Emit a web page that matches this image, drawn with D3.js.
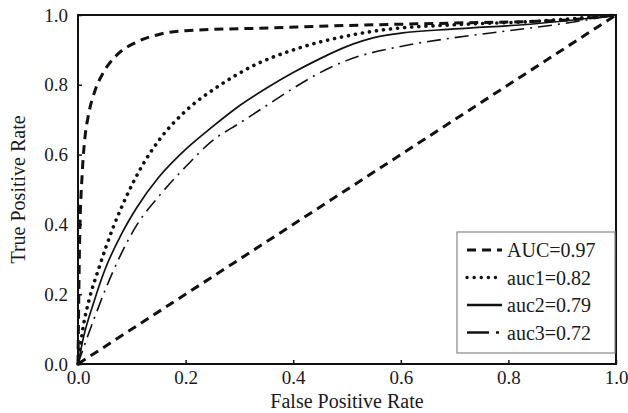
<!DOCTYPE html>
<meta charset="utf-8">
<style>
    body { margin: 0; background: #fff; }
    text { font-family: "Liberation Serif", "Times New Roman", serif; fill: #1a1a1a; }
    .frame { fill: none; stroke: #111; stroke-width: 2; }
    .roc { fill: none; stroke: #111; }
</style>
<svg width="628" height="413"></svg>
<script src="https://d3js.org/d3.v7.min.js"></script>
<script>

// ROC data
var fprAUC = [0, 0.003, 0.008, 0.013, 0.019, 0.032, 0.047, 0.072, 0.11, 0.152, 0.2, 0.36, 0.5, 0.7, 0.9, 1];
var tprAUC = [0, 0.35, 0.55, 0.65, 0.71, 0.785, 0.835, 0.885, 0.923, 0.945, 0.955, 0.963, 0.97, 0.977, 0.985, 1];

var fpr1 = [0, 0.01, 0.02, 0.04, 0.065, 0.09, 0.12, 0.15, 0.2, 0.26, 0.32, 0.41, 0.5, 0.57, 0.7, 0.85, 1];
var tpr1 = [0, 0.11, 0.18, 0.28, 0.39, 0.48, 0.57, 0.64, 0.725, 0.795, 0.85, 0.905, 0.94, 0.958, 0.972, 0.982, 1];

var fpr2 = [0, 0.01, 0.03, 0.05, 0.08, 0.11, 0.15, 0.2, 0.25, 0.3, 0.35, 0.4, 0.45, 0.5, 0.55, 0.6, 0.7, 0.85, 1];
var tpr2 = [0, 0.075, 0.18, 0.27, 0.37, 0.45, 0.535, 0.615, 0.68, 0.74, 0.79, 0.835, 0.875, 0.91, 0.935, 0.948, 0.96, 0.975, 1];

var fpr3 = [0, 0.01, 0.03, 0.05, 0.08, 0.11, 0.15, 0.2, 0.25, 0.3, 0.35, 0.4, 0.45, 0.5, 0.6, 0.7, 0.8, 0.9, 1];
var tpr3 = [0, 0.045, 0.13, 0.21, 0.315, 0.4, 0.48, 0.565, 0.64, 0.69, 0.74, 0.79, 0.835, 0.87, 0.91, 0.935, 0.955, 0.975, 1];

var fprDiag = [0, 1];
var tprDiag = [0, 1];

var labels = ["AUC=0.97", "auc1=0.82", "auc2=0.79", "auc3=0.72"];
var ticks = [0, 0.2, 0.4, 0.6, 0.8, 1.0];

var svg = d3.select("svg"),
    margin = {top: 15, right: 12, bottom: 49, left: 78},
    width = +svg.attr("width") - margin.left - margin.right,
    height = +svg.attr("height") - margin.top - margin.bottom;

var x = d3.scaleLinear().domain([0, 1]).range([0, width]),
    y = d3.scaleLinear().domain([0, 1]).range([height, 0]);

var g = svg.append("g")
    .attr("transform", "translate(" + margin.left + "," + margin.top + ")");

var styles = [
    {width: 3, dash: "9,6", cap: "butt"},
    {width: 3.6, dash: "0.1,7", cap: "round"},
    {width: 1.7, dash: null, cap: "butt"},
    {width: 1.6, dash: "14,6,2,6", cap: "butt"}
];

function zip(xs, ys) { return xs.map(function(v, i) { return [v, ys[i]]; }); }

var series = [zip(fprAUC, tprAUC), zip(fpr1, tpr1), zip(fpr2, tpr2), zip(fpr3, tpr3)];

var line = d3.line()
    .x(function(d) { return x(d[0]); })
    .y(function(d) { return y(d[1]); })
    .curve(d3.curveMonotoneX);

// diagonal (chance line), same dash as AUC
g.append("path")
    .datum(zip(fprDiag, tprDiag))
    .attr("class", "roc")
    .attr("d", d3.line().x(function(d) { return x(d[0]); }).y(function(d) { return y(d[1]); }))
    .attr("stroke-width", 3)
    .attr("stroke-dasharray", "9,6");

g.selectAll(".curve")
    .data(series)
    .enter().append("path")
    .attr("class", "roc curve")
    .attr("d", line)
    .attr("stroke-width", function(d, i) { return styles[i].width; })
    .attr("stroke-dasharray", function(d, i) { return styles[i].dash; })
    .attr("stroke-linecap", function(d, i) { return styles[i].cap; });

// axes with inward ticks
var xAxis = g.append("g")
    .attr("transform", "translate(0," + height + ")")
    .call(d3.axisBottom(x).tickValues(ticks).tickFormat(d3.format(".1f")).tickSizeInner(-4).tickSizeOuter(0).tickPadding(10));
var yAxis = g.append("g")
    .call(d3.axisLeft(y).tickValues(ticks).tickFormat(d3.format(".1f")).tickSizeInner(-4).tickSizeOuter(0).tickPadding(10));

[xAxis, yAxis].forEach(function(a) {
    a.select(".domain").remove();
    a.selectAll("line").attr("stroke", "#111").attr("stroke-width", 1.5);
    a.selectAll("text").attr("font-family", "Liberation Serif").attr("font-size", 19).attr("fill", "#1a1a1a");
});
xAxis.selectAll("text").attr("dy", "0.55em");

g.append("rect")
    .attr("class", "frame")
    .attr("width", width)
    .attr("height", height);

g.append("text")
    .attr("x", width / 2)
    .attr("y", height + 44)
    .attr("text-anchor", "middle")
    .attr("font-size", 20)
    .text("False Positive Rate");

g.append("text")
    .attr("transform", "rotate(-90)")
    .attr("x", -height / 2)
    .attr("y", -53)
    .attr("text-anchor", "middle")
    .attr("font-size", 20)
    .text("True Positive Rate");

// legend
var legend = g.append("g")
    .attr("transform", "translate(" + (width - 159) + "," + (height - 132) + ")");

legend.append("rect")
    .attr("width", 158)
    .attr("height", 121)
    .attr("fill", "#fff")
    .attr("stroke", "#888")
    .attr("stroke-width", 1.2);

var item = legend.selectAll(".item")
    .data(labels)
    .enter().append("g")
    .attr("transform", function(d, i) { return "translate(0," + (18 + i * 27.5) + ")"; });

item.append("line")
    .attr("x1", 10)
    .attr("x2", 45)
    .attr("stroke", "#111")
    .attr("stroke-width", function(d, i) { return i === 1 ? 3.4 : (i === 0 ? 3 : 2.6); })
    .attr("stroke-dasharray", function(d, i) { return i === 3 ? "22,7,3,6" : styles[i].dash; })
    .attr("stroke-linecap", function(d, i) { return styles[i].cap; });

item.append("text")
    .attr("x", 50)
    .attr("dy", "0.35em")
    .attr("font-size", 20)
    .text(function(d) { return d; });

</script>
